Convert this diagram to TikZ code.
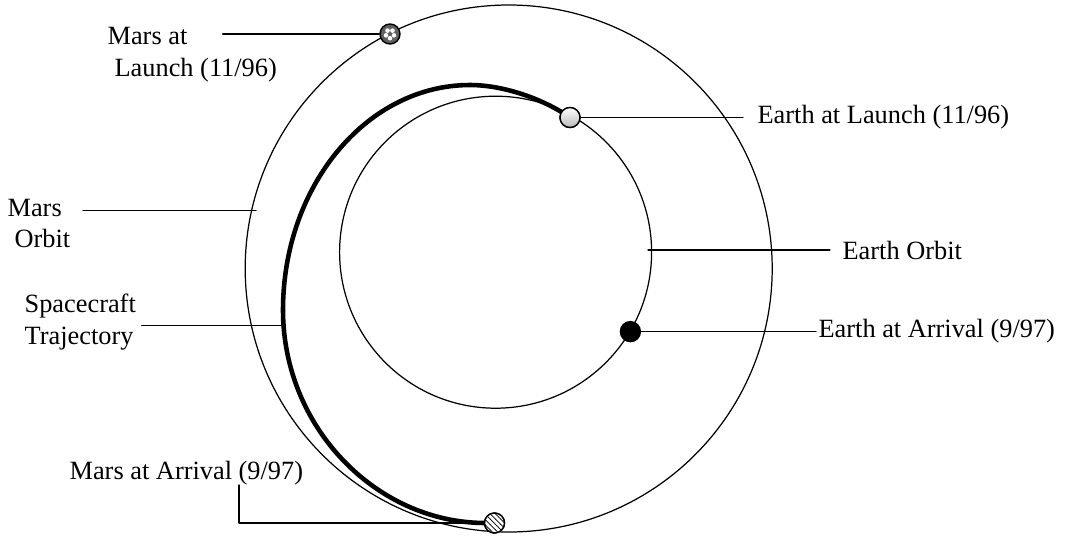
\documentclass[tikz,border=0pt]{standalone}
\usepackage{fontspec}
\setmainfont{Liberation Serif}
\usetikzlibrary{patterns}
\begin{document}
\begin{tikzpicture}[x=0.02cm, y=-0.02cm, line join=round, line cap=round, line width=0.7pt,
  font=\fontsize{15}{18.2}\selectfont,
  planet/.style={circle, draw, line width=0.8pt, minimum size=0.4cm, inner sep=0pt},
  lbl/.style={anchor=west, align=left, inner sep=0pt}]
\useasboundingbox (0,0) rectangle (1065,535);
% orbits
\draw (508.7,268.5) circle (263.5);
\draw (495.6,252.2) circle (156);
% planets
\node[planet, fill=gray!75!black] (mlaunch) at (390,34) {};
\foreach \a in {90,162,234,306,18}
  \fill[white] (mlaunch) ++(\a:4.2) circle (2.3);
\node[planet, top color=white, bottom color=gray!55] (elaunch) at (570,117.5) {};
\node[planet, fill=black] (earrive) at (630.4,331.6) {};
\node[planet, fill=white, postaction={pattern=north west lines}] (marrive) at (494.5,523) {};
% transfer trajectory
\draw[line width=2.6pt] (elaunch.center) .. controls (545,100) and (505,85) .. (470,85)
  .. controls (366.8,85) and (283,185.8) .. (283,310)
  .. controls (283,427) and (375.7,522) .. (marrive.west);
% labels
\node[lbl] (lblmlaunch) at (107,55) {Mars at\\\hspace*{0.14cm}Launch (11/96)};
\node[lbl] (lblmorbit) at (7,223.5) {Mars\\\hspace*{0.14cm}Orbit};
\node[lbl] (lblcraft) at (24,322) {Spacecraft\\Trajectory};
\node[lbl] (lblmarrive) at (69,473) {Mars at Arrival (9/97)};
\node[lbl] (lblelaunch) at (757,117.5) {Earth at Launch (11/96)};
\node[lbl] (lbleorbit) at (842,250) {Earth Orbit};
\node[lbl] (lblearrive) at (818,331.6) {Earth at Arrival (9/97)};
% leaders
\coordinate (c1) at (222.7,34);
\coordinate (c2a) at (83,210.7);
\coordinate (c2b) at (256,210.7);
\coordinate (c3a) at (141.7,325.7);
\coordinate (c3b) at (283,325.7);
\coordinate (c4) at (239,485);
\coordinate (c5) at (743,117.5);
\coordinate (c6a) at (648,250);
\coordinate (c6b) at (830,250);
\coordinate (c7) at (816,331.6);
\draw (c1) -- (mlaunch);
\draw (c2a) -- (c2b);
\draw (c3a) -- (c3b);
\draw (c4) |- (marrive);
\draw (elaunch) -- (c5);
\draw (c6a) -- (c6b);
\draw (earrive) -- (c7);
% redraw markers above the trajectory
\node[planet, top color=white, bottom color=gray!55] at (elaunch) {};
\node[planet, fill=white, postaction={pattern=north west lines}] at (marrive) {};
\end{tikzpicture}
\end{document}
